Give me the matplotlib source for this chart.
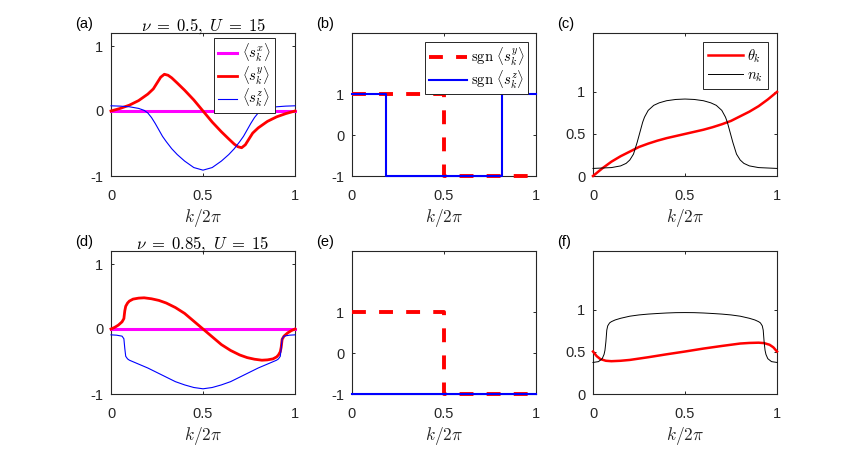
import matplotlib
matplotlib.use("Agg")
import matplotlib.pyplot as plt

plt.rcParams['font.family'] = ['Liberation Sans', 'DejaVu Sans']
plt.rcParams['mathtext.fontset'] = 'cm'
plt.rcParams['axes.unicode_minus'] = False
plt.rcParams['lines.scale_dashes'] = False

# ---------------- data ----------------
# (a) nu=0.5
k_a_y = [0, 0.05, 0.1, 0.15, 0.2, 0.23, 0.25, 0.27, 0.29, 0.31, 0.33, 0.36, 0.4, 0.45, 0.5,
         0.55, 0.6, 0.64, 0.67, 0.69, 0.71, 0.73, 0.75, 0.77, 0.8, 0.85, 0.9, 0.95, 1.0]
s_a_y = [0, 0.04, 0.09, 0.16, 0.26, 0.34, 0.43, 0.52, 0.565, 0.55, 0.51, 0.43, 0.32, 0.17, 0,
         -0.17, -0.32, -0.43, -0.51, -0.55, -0.565, -0.52, -0.43, -0.34, -0.26, -0.16, -0.09, -0.04, 0]
k_a_z = [0, 0.05, 0.1, 0.15, 0.18, 0.2, 0.22, 0.24, 0.26, 0.28, 0.3, 0.33, 0.36, 0.4, 0.45, 0.5,
         0.55, 0.6, 0.64, 0.67, 0.7, 0.72, 0.74, 0.76, 0.78, 0.8, 0.82, 0.85, 0.9, 0.95, 1.0]
s_a_z = [0.08, 0.075, 0.065, 0.04, 0.01, -0.03, -0.1, -0.19, -0.29, -0.39, -0.47, -0.58, -0.67, -0.77, -0.87, -0.91,
         -0.87, -0.77, -0.67, -0.58, -0.47, -0.39, -0.29, -0.19, -0.1, -0.03, 0.01, 0.04, 0.065, 0.075, 0.08]
k_x = [0, 1]
s_x = [0, 0]

# (b) / (e) sign functions
k_sgn_y = [0, 0.5, 0.5, 1]
sgn_y = [1, 1, -1, -1]
k_b_sgn_z = [0, 0.187, 0.187, 0.813, 0.813, 1]
b_sgn_z = [1, 1, -1, -1, 1, 1]
k_e_sgn_z = [0, 1]
e_sgn_z = [-1, -1]

# (c)
k_c_n = [0, 0.05, 0.1, 0.15, 0.18, 0.2, 0.22, 0.24, 0.25, 0.26, 0.27, 0.28, 0.3, 0.33, 0.36, 0.4, 0.45, 0.5,
         0.55, 0.6, 0.64, 0.67, 0.7, 0.72, 0.73, 0.74, 0.75, 0.76, 0.78, 0.8, 0.82, 0.85, 0.9, 0.95, 1.0]
c_n = [0.09, 0.095, 0.1, 0.12, 0.15, 0.19, 0.26, 0.40, 0.48, 0.56, 0.64, 0.70, 0.78, 0.84, 0.87, 0.895, 0.91, 0.915,
       0.91, 0.895, 0.87, 0.84, 0.78, 0.70, 0.64, 0.56, 0.48, 0.40, 0.26, 0.19, 0.15, 0.12, 0.1, 0.095, 0.09]
k_c_t = [0, 0.05, 0.1, 0.15, 0.2, 0.25, 0.3, 0.35, 0.4, 0.45, 0.5, 0.55, 0.6, 0.65, 0.7, 0.75, 0.8, 0.85, 0.9, 0.95, 1.0]
c_t = [0, 0.09, 0.17, 0.235, 0.29, 0.345, 0.385, 0.42, 0.45, 0.475, 0.5, 0.525, 0.55, 0.58, 0.615, 0.655, 0.71, 0.765, 0.83, 0.91, 1.0]

# (d) nu=0.85
k_d_y = [0, 0.02, 0.04, 0.06, 0.07, 0.075, 0.08, 0.09, 0.1, 0.12, 0.15, 0.18, 0.22, 0.26, 0.3, 0.35, 0.4, 0.45, 0.5,
         0.55, 0.6, 0.65, 0.7, 0.74, 0.78, 0.82, 0.85, 0.88, 0.9, 0.91, 0.92, 0.925, 0.93, 0.94, 0.96, 0.98, 1.0]
s_d_y = [0, 0.025, 0.06, 0.11, 0.16, 0.28, 0.35, 0.40, 0.43, 0.46, 0.475, 0.48, 0.465, 0.44, 0.40, 0.33, 0.24, 0.12, 0,
         -0.12, -0.24, -0.33, -0.40, -0.44, -0.465, -0.48, -0.475, -0.46, -0.43, -0.40, -0.35, -0.28, -0.16, -0.11, -0.06, -0.025, 0]
k_d_z = [0, 0.03, 0.06, 0.07, 0.075, 0.08, 0.09, 0.1, 0.15, 0.2, 0.25, 0.3, 0.35, 0.4, 0.45, 0.5,
         0.55, 0.6, 0.65, 0.7, 0.75, 0.8, 0.85, 0.9, 0.91, 0.92, 0.925, 0.93, 0.94, 0.97, 1.0]
s_d_z = [-0.09, -0.095, -0.11, -0.15, -0.30, -0.42, -0.46, -0.48, -0.54, -0.6, -0.67, -0.74, -0.81, -0.86, -0.9, -0.92,
         -0.9, -0.86, -0.81, -0.74, -0.67, -0.6, -0.54, -0.48, -0.46, -0.42, -0.30, -0.15, -0.11, -0.095, -0.09]

# (f)
k_f_n = [0, 0.03, 0.05, 0.06, 0.065, 0.07, 0.075, 0.08, 0.09, 0.1, 0.12, 0.15, 0.2, 0.25, 0.3, 0.35, 0.4, 0.45, 0.5,
         0.55, 0.6, 0.65, 0.7, 0.75, 0.8, 0.85, 0.88, 0.9, 0.91, 0.92, 0.925, 0.93, 0.935, 0.94, 0.95, 0.97, 1.0]
f_n = [0.375, 0.385, 0.42, 0.47, 0.52, 0.62, 0.76, 0.81, 0.845, 0.86, 0.88, 0.9, 0.925, 0.94, 0.95, 0.957, 0.963, 0.967, 0.968,
       0.967, 0.963, 0.957, 0.95, 0.94, 0.925, 0.9, 0.88, 0.86, 0.845, 0.81, 0.76, 0.62, 0.52, 0.47, 0.42, 0.385, 0.375]
k_f_t = [0, 0.02, 0.04, 0.07, 0.1, 0.15, 0.2, 0.3, 0.4, 0.5, 0.6, 0.7, 0.8, 0.85, 0.9, 0.93, 0.96, 0.98, 1.0]
f_t = [0.505, 0.45, 0.415, 0.395, 0.39, 0.395, 0.405, 0.437, 0.472, 0.505, 0.54, 0.571, 0.600, 0.607, 0.61, 0.605, 0.585, 0.555, 0.505]

xticks = [0, 0.5, 1]
xticklabels = ['0', '0.5', '1']
yticks_s = [-1, 0, 1]
yticklabels_s = ['-1', '0', '1']
yticks_c = [0, 0.5, 1]
yticklabels_c = ['0', '0.5', '1']
panel_labels = ['(a)', '(b)', '(c)', '(d)', '(e)', '(f)']
titles = [r'$\nu\;=\;0.5,\ U\;=\;15$', r'$\nu\;=\;0.85,\ U\;=\;15$']

# ---------------- figure ----------------
W, H = 858, 458
fig = plt.figure(figsize=(W / 100, H / 100), dpi=100)
lefts = [111, 352, 593]
tops = [33, 251]
aw, ah = 184, 143
axes = []
for r in range(2):
    for c in range(3):
        ax = fig.add_axes([lefts[c] / W, 1 - (tops[r] + ah) / H, aw / W, ah / H])
        axes.append(ax)

spine_col = '#262626'
for i, ax in enumerate(axes):
    ax.set_xlim(0, 1)
    ax.set_xticks(xticks)
    ax.set_xticklabels(xticklabels)
    for s in ax.spines.values():
        s.set_color(spine_col)
        s.set_linewidth(0.8)
    ax.tick_params(direction='in', top=True, right=True, length=2.5, width=0.7,
                   colors=spine_col, labelsize=10.5, labelcolor='#262626')
    ax.tick_params(axis='x', pad=9)
    ax.tick_params(axis='y', pad=5.5)
    ax.set_xlabel(r'$k/2\pi$', fontsize=12.5, labelpad=3, color='#262626')
    ax.text(-0.197, 1.063, panel_labels[i], transform=ax.transAxes, ha='left', va='center',
            fontsize=10.5, color='black')

LEG = dict(fontsize=10.5, fancybox=False, framealpha=1, edgecolor='#262626',
           labelspacing=0.0, borderpad=0.25, borderaxespad=0.0, loc='upper right')

# (a) and (d)
for ax, ky, sy, kz, sz, ttl in [(axes[0], k_a_y, s_a_y, k_a_z, s_a_z, titles[0]),
                                (axes[3], k_d_y, s_d_y, k_d_z, s_d_z, titles[1])]:
    ax.plot(k_x, s_x, color='#ff00ff', lw=2.2, zorder=3, clip_on=False, label=r'$\langle s_k^x\rangle$')
    ax.plot(ky, sy, color='red', lw=2.0, zorder=3, clip_on=False, label=r'$\langle s_k^y\rangle$')
    ax.plot(kz, sz, color='blue', lw=0.8, zorder=3, clip_on=False, label=r'$\langle s_k^z\rangle$')
    ax.set_ylim(-1, 1.2)
    ax.set_yticks(yticks_s)
    ax.set_yticklabels(yticklabels_s)
    ax.set_title(ttl, fontsize=12, pad=2)

leg = axes[0].legend(handlelength=1.3, handletextpad=0.4,
                     bbox_to_anchor=(0.891, 0.965), **LEG)
leg.get_frame().set_linewidth(0.7)

# (b) and (e)
for ax, kz, sz, lg in [(axes[1], k_b_sgn_z, b_sgn_z, True), (axes[4], k_e_sgn_z, e_sgn_z, False)]:
    ax.plot(k_sgn_y, sgn_y, color='red', lw=2.8, dashes=(10, 9.5), zorder=3, clip_on=False,
            label=r'$\mathrm{sgn}\ \langle s_k^y\rangle$')
    ax.plot(kz, sz, color='blue', lw=1.5, zorder=3, clip_on=False,
            label=r'$\mathrm{sgn}\ \langle s_k^z\rangle$')
    ax.set_ylim(-1, 2.5)
    ax.set_yticks(yticks_s)
    ax.set_yticklabels(yticklabels_s)
    if lg:
        leg = ax.legend(handlelength=2.6, handletextpad=0.3,
                        bbox_to_anchor=(0.957, 0.937), **LEG)
        leg.get_frame().set_linewidth(0.7)

# (c) and (f)
for ax, kt, t, kn, n, lg in [(axes[2], k_c_t, c_t, k_c_n, c_n, True), (axes[5], k_f_t, f_t, k_f_n, f_n, False)]:
    ax.plot(kt, t, color='red', lw=1.8, zorder=3, clip_on=False, label=r'$\theta_k$')
    ax.plot(kn, n, color='black', lw=0.7, zorder=3, clip_on=False, label=r'$n_k$')
    ax.set_ylim(0, 1.7)
    ax.set_yticks(yticks_c)
    ax.set_yticklabels(yticklabels_c)
    if lg:
        leg = ax.legend(handlelength=2.4, handletextpad=0.3,
                        bbox_to_anchor=(0.951, 0.937), **dict(LEG, labelspacing=0.25, borderpad=0.35))
        leg.get_frame().set_linewidth(0.7)

fig.savefig('out.png', dpi=100, facecolor='white')
